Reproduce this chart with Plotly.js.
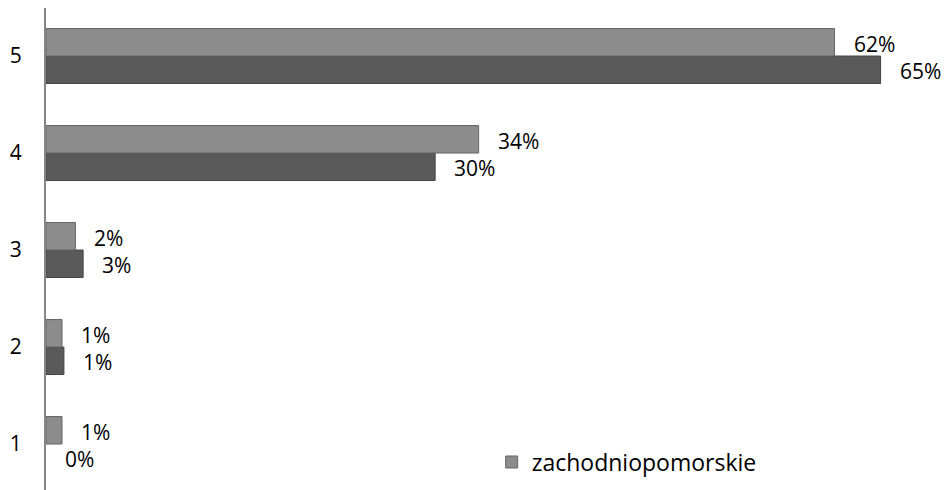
<!DOCTYPE html>
<html>
<head>
<meta charset="utf-8">
<script src="https://cdn.plot.ly/plotly-3.0.1.min.js"></script>
<style>
  html, body { margin: 0; padding: 0; background: #fff; }
  #chart { width: 950px; height: 490px; }
</style>
</head>
<body>
<div id="chart"></div>
<script>
// Data (bar lengths; labels as printed)
const categories = ["1", "2", "3", "4", "5"];
const lightValues = [1.25, 1.25, 2.3, 33.8, 61.6];   // upper bar in each group (legend: zachodniopomorskie)
const darkValues  = [0, 1.4, 2.9, 30.4, 65.2];       // lower bar in each group
const lightLabels = ["1%", "1%", "2%", "34%", "62%"];
const darkLabels  = ["0%", "1%", "3%", "30%", "65%"];
const legendName = "zachodniopomorskie";

const FONT = "Open Sans, Liberation Sans, Arial, sans-serif";

const traceDark = {
  type: "bar",
  orientation: "h",
  y: categories,
  x: darkValues,
  name: "",
  showlegend: false,
  marker: { color: "#5a5a5a", line: { color: "#444444", width: darkValues.map(v => v > 0 ? 1 : 0) } },
  hoverinfo: "skip"
};
const traceLight = {
  type: "bar",
  orientation: "h",
  y: categories,
  x: lightValues,
  name: legendName,
  showlegend: true,
  marker: { color: "#8c8c8c", line: { color: "#666666", width: lightValues.map(v => v > 0 ? 1 : 0) } },
  hoverinfo: "skip"
};

// category axis: annotations positioned by category index
const annotations = [];
categories.forEach((c, i) => {
  annotations.push({
    x: lightValues[i], y: i, xref: "x", yref: "y",
    text: lightLabels[i], showarrow: false,
    xanchor: "left", yanchor: "middle", xshift: 17, yshift: 12,
    font: { family: FONT, size: 21, color: "#000" }
  });
  annotations.push({
    x: darkValues[i], y: i, xref: "x", yref: "y",
    text: darkLabels[i], showarrow: false,
    xanchor: "left", yanchor: "middle", xshift: 17, yshift: -15,
    font: { family: FONT, size: 21, color: "#000" }
  });
});

const layout = {
  width: 950,
  height: 490,
  margin: { l: 46, r: 10, t: 8, b: 0 },
  paper_bgcolor: "#fff",
  plot_bgcolor: "#fff",
  barmode: "group",
  bargap: 0.433,
  bargroupgap: 0,
  font: { family: FONT, size: 21, color: "#000" },
  xaxis: {
    range: [0, 69.84],
    visible: false,
    showgrid: false,
    zeroline: false
  },
  yaxis: {
    type: "category",
    categoryorder: "array",
    categoryarray: categories,
    range: [-0.474, 4.495],
    showline: true,
    linecolor: "#868686",
    linewidth: 2,
    showgrid: false,
    zeroline: false,
    ticks: "",
    ticklabelstandoff: 18,
    tickfont: { family: FONT, size: 21, color: "#000" }
  },
  showlegend: true,
  legend: {
    x: 0.4985, xanchor: "left",
    y: 0.058, yanchor: "middle",
    bgcolor: "rgba(0,0,0,0)",
    borderwidth: 0,
    font: { family: FONT, size: 23, color: "#000" },
    itemclick: false
  },
  annotations: annotations
};

Plotly.newPlot("chart", [traceDark, traceLight], layout, { displayModeBar: false, staticPlot: true });
</script>
</body>
</html>
